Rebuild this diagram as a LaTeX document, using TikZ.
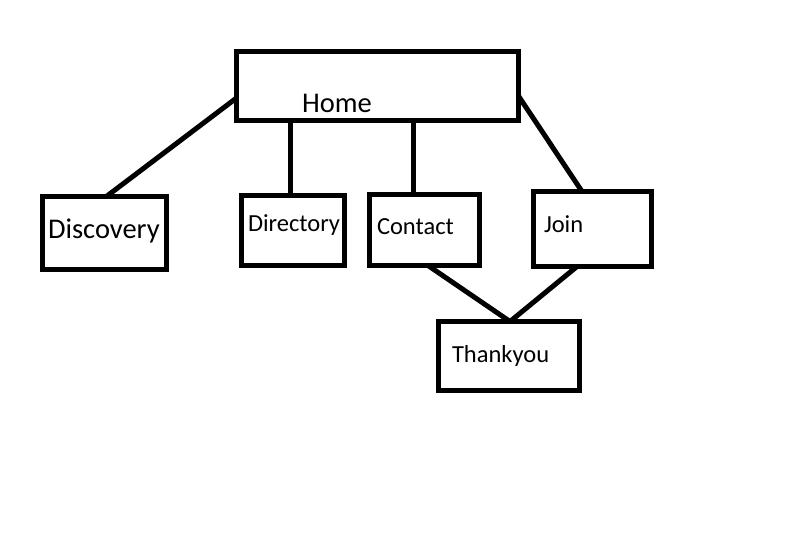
\documentclass[tikz,border=0pt]{standalone}
\usepackage{fontspec}
\setmainfont{Carlito}
\usetikzlibrary{calc}

\begin{document}
\begin{tikzpicture}[
    x=1pt, y=-1pt,
    line width=5pt,
    page/.style={draw, rectangle, inner sep=0pt, outer sep=0pt},
    big/.style={anchor=base west, inner sep=0pt, font=\fontsize{28.5}{32}\selectfont},
    small/.style={anchor=base west, inner sep=0pt, font=\fontsize{24.5}{28}\selectfont}]

\useasboundingbox (0,0) rectangle (796,542);

% boxes
\node[page, minimum width=282pt, minimum height=69pt] (home) at (377.5,86) {};
\node[page, minimum width=124pt, minimum height=73pt] (disc) at (104,232.5) {};
\node[page, minimum width=103pt, minimum height=70.5pt] (dir) at (292.5,230.25) {};
\node[page, minimum width=110pt, minimum height=71pt] (cont) at (424.5,230) {};
\node[page, minimum width=118pt, minimum height=75pt] (join) at (592.5,229) {};
\node[page, minimum width=141pt, minimum height=69pt] (thank) at (509,356) {};

% labels
\node[big] (homet) at (299.5,112) {Home};
\node[big] (disct) at (45.5,238) {Discovery};
\node[small] (dirt) at (245.5,231) {Directory};
\node[small] (contt) at (374.5,234) {Contact};
\node[small] (joint) at (541.5,232) {Join};
\node[small] (thankt) at (449.5,362) {Thankyou};

% links
\draw ([yshift=-12pt]home.west) -- ([xshift=3pt]disc.north);
\draw ([xshift=-2pt]dir.north) -- ([xshift=-2pt]dir.north |- home.south);
\draw ([xshift=-11.5pt]cont.north) -- ([xshift=-11.5pt]cont.north |- home.south);
\draw ([yshift=-10pt]home.east) -- ([xshift=-10.5pt]join.north);
\draw ([xshift=3.5pt]cont.south) -- ([xshift=1pt]thank.north);
\draw ([xshift=-15.5pt]join.south) -- ([xshift=1pt]thank.north);

\end{tikzpicture}
\end{document}
